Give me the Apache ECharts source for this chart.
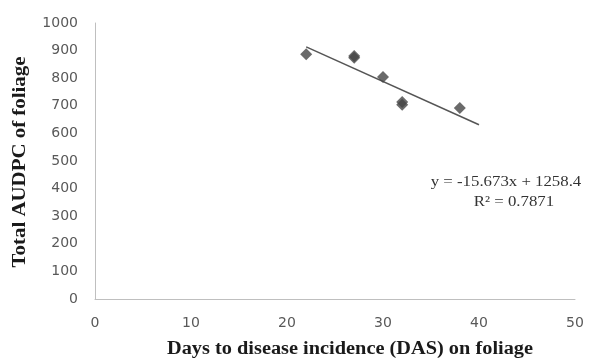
<!DOCTYPE html>
<html><head><meta charset="utf-8">
<script src="https://cdn.jsdelivr.net/npm/echarts@6/dist/echarts.min.js"></script>
<style>html,body{margin:0;padding:0;background:#fff}#c{width:601px;height:358px}</style>
</head><body><div id="c"></div>
<script>
const daysX = [22, 27, 27, 30, 32, 32, 38];
const audpcY = [887, 880, 874, 804, 714, 704, 692];
const trendSlope = -15.673;
const trendIntercept = 1258.4;
const trendRange = [22, 40];
const xTicks = [0, 10, 20, 30, 40, 50];
const yTicks = [0, 100, 200, 300, 400, 500, 600, 700, 800, 900, 1000];
const xTitle = 'Days to disease incidence (DAS) on foliage';
const yTitle = 'Total AUDPC of foliage';
const eqText = 'y = -15.673x + 1258.4';
const r2Text = 'R² = 0.7871';

const points = daysX.map((x, i) => [x, audpcY[i]]);
const trend = trendRange.map(x => [x, trendSlope * x + trendIntercept]);

const chart = echarts.init(document.getElementById('c'));
const titleFont = 'bold 18px "Liberation Serif"';
const eqFont = '14px "Liberation Serif"';
chart.setOption({
  animation: false,
  grid: { left: 95, right: 26, top: 23, bottom: 59 },
  xAxis: {
    type: 'value', min: xTicks[0], max: xTicks[xTicks.length - 1], interval: 10,
    axisLine: { lineStyle: { color: '#bfbfbf' } },
    axisTick: { show: false },
    splitLine: { show: false },
    axisLabel: { color: '#595959', fontSize: 14, fontFamily: 'DejaVu Sans', margin: 17 }
  },
  yAxis: {
    type: 'value', min: yTicks[0], max: yTicks[yTicks.length - 1], interval: 100,
    axisLine: { show: true, lineStyle: { color: '#bfbfbf' } },
    axisTick: { show: false },
    splitLine: { show: false },
    axisLabel: { color: '#595959', fontSize: 14, fontFamily: 'DejaVu Sans', margin: 17,
      formatter: v => String(v) }
  },
  series: [
    {
      type: 'line', data: trend, symbol: 'none',
      lineStyle: { color: '#555', width: 1.5 }, z: 1
    },
    {
      type: 'scatter', data: points, symbol: 'diamond', symbolSize: 12,
      itemStyle: { color: '#454545' }, z: 2
    }
  ],
  graphic: [
    { type: 'text', x: 350, y: 349, scaleX: 1.13,
      style: { text: xTitle, font: titleFont, fill: '#1a1a1a', textAlign: 'center', textVerticalAlign: 'middle' } },
    { type: 'text', x: 20, y: 162, rotation: Math.PI / 2, scaleX: 1.16,
      style: { text: yTitle, font: titleFont, fill: '#1a1a1a', textAlign: 'center', textVerticalAlign: 'middle' } },
    { type: 'text', x: 506, y: 182, scaleX: 1.2,
      style: { text: eqText, font: eqFont, fill: '#333', textAlign: 'center', textVerticalAlign: 'middle' } },
    { type: 'text', x: 514, y: 202, scaleX: 1.2,
      style: { text: r2Text, font: eqFont, fill: '#333', textAlign: 'center', textVerticalAlign: 'middle' } }
  ]
});
</script></body></html>
